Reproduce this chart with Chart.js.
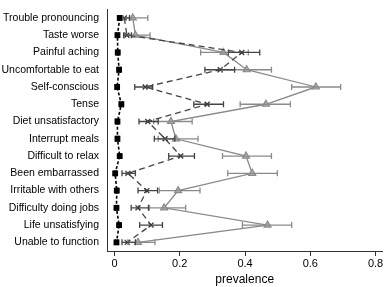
<!DOCTYPE html>
<html><head><meta charset="utf-8">
<script src="https://cdn.jsdelivr.net/npm/chart.js@4"></script>
<style>html,body{margin:0;padding:0;background:#fff}#wrap{width:388px;height:287px}</style>
</head><body><div id="wrap"><canvas id="c" width="388" height="287"></canvas></div>
<script>
const categories = ["Trouble pronouncing","Taste worse","Painful aching","Uncomfortable to eat","Self-conscious","Tense","Diet unsatisfactory","Interrupt meals","Difficult to relax","Been embarrassed","Irritable with others","Difficulty doing jobs","Life unsatisfying","Unable to function"];
const xTicks = [0, 0.2, 0.4, 0.6, 0.8];
const xTickLabels = ["0", "0.2", "0.4", "0.6", "0.8"];

const s1 = [0.016,0.009,0.010,0.014,0.008,0.021,0.009,0.009,0.016,0.002,0.007,0.006,0.014,0.006];
const s1Lo = [0.011,0.005,0.006,0.010,0.004,0.016,0.005,0.005,0.012,0.000,0.003,0.003,0.010,0.003];
const s1Hi = [0.021,0.013,0.014,0.018,0.012,0.026,0.013,0.013,0.020,0.005,0.011,0.010,0.018,0.010];

const s2 = [0.030,0.038,0.390,0.324,0.094,0.284,0.102,0.155,0.203,0.041,0.099,0.072,0.112,0.039];
const s2Lo = [0.022,0.028,0.349,0.277,0.062,0.243,0.075,0.122,0.166,0.023,0.072,0.051,0.077,0.023];
const s2Hi = [0.046,0.052,0.445,0.368,0.117,0.334,0.134,0.185,0.245,0.064,0.132,0.104,0.147,0.064];

const s3 = [0.056,0.064,0.334,0.405,0.617,0.464,0.173,0.188,0.403,0.422,0.195,0.152,0.469,0.072];
const s3Lo = [0.026,0.031,0.264,0.329,0.543,0.385,0.120,0.134,0.331,0.347,0.137,0.107,0.392,0.041];
const s3Hi = [0.102,0.109,0.410,0.481,0.693,0.539,0.238,0.256,0.481,0.499,0.262,0.218,0.543,0.124];

const errSets = [
  {ds: 2, lo: s3Lo, hi: s3Hi, color: '#8a8a8a'},
  {ds: 1, lo: s2Lo, hi: s2Hi, color: '#444'},
  {ds: 0, lo: s1Lo, hi: s1Hi, color: '#000'}
];

const errorBars = {
  id: 'errorBars',
  afterDatasetsDraw(chart) {
    const ctx = chart.ctx, xs = chart.scales.x, ys = chart.scales.y;
    ctx.save();
    errSets.forEach(e => {
      ctx.strokeStyle = e.color;
      ctx.lineWidth = 1.3;
      ctx.setLineDash([]);
      e.lo.forEach((lo, i) => {
        const y = ys.getPixelForValue(i);
        const x1 = xs.getPixelForValue(lo), x2 = xs.getPixelForValue(e.hi[i]);
        ctx.beginPath();
        ctx.moveTo(x1, y); ctx.lineTo(x2, y);
        ctx.moveTo(x1, y - 3); ctx.lineTo(x1, y + 3);
        ctx.moveTo(x2, y - 3); ctx.lineTo(x2, y + 3);
        ctx.stroke();
      });
    });
    ctx.restore();
  }
};

const font = {family: '"Liberation Sans", Arial, sans-serif', size: 10.5};

new Chart(document.getElementById('c'), {
  type: 'line',
  data: {
    labels: categories,
    datasets: [
      {data: s1, borderColor: '#000', borderWidth: 1.6, borderDash: [3, 2], pointStyle: 'rect', pointRadius: 3, backgroundColor: '#000', pointBorderColor: '#000', order: 0},
      {data: s2, borderColor: '#444', borderWidth: 1.3, borderDash: [6, 4], pointStyle: 'crossRot', pointRadius: 3.5, pointBorderColor: '#333', pointBorderWidth: 1.3, order: 1},
      {data: s3, borderColor: '#8a8a8a', borderWidth: 1.3, pointStyle: 'triangle', pointRadius: 4, backgroundColor: '#b5b5b5', pointBorderColor: '#8a8a8a', pointBorderWidth: 1.2, order: 2}
    ]
  },
  options: {
    indexAxis: 'y',
    responsive: false,
    animation: false,
    devicePixelRatio: 1,
    layout: {padding: {left: 0, right: 2, top: 0, bottom: 0}},
    plugins: {legend: {display: false}, tooltip: {enabled: false}},
    elements: {line: {tension: 0, fill: false}},
    scales: {
      y: {
        type: 'category',
        offset: true,
        grid: {display: false, drawTicks: true, tickLength: 5, tickColor: '#333', drawOnChartArea: false},
        border: {display: true, color: '#333', width: 1},
        ticks: {color: '#000', font: font, padding: 3, autoSkip: false},
        afterFit: s => { s.width = 107; }
      },
      x: {
        type: 'linear',
        min: -0.023,
        max: 0.821,
        grid: {display: true, drawOnChartArea: false, drawTicks: true, tickLength: 5, tickColor: '#333'},
        border: {display: true, color: '#333', width: 1},
        ticks: {color: '#000', font: {family: font.family, size: 11}, padding: 1, autoSkip: false, maxRotation: 0,
          callback: (v) => { const i = xTicks.indexOf(v); return i >= 0 ? xTickLabels[i] : ''; }},
        afterBuildTicks: s => { s.ticks = xTicks.map(v => ({value: v})); },
        title: {display: true, text: 'prevalence', color: '#000', font: {family: font.family, size: 12}, padding: {top: 0, bottom: 0}},
        afterFit: s => { s.height = 36; }
      }
    }
  },
  plugins: [errorBars]
});
</script></body></html>
